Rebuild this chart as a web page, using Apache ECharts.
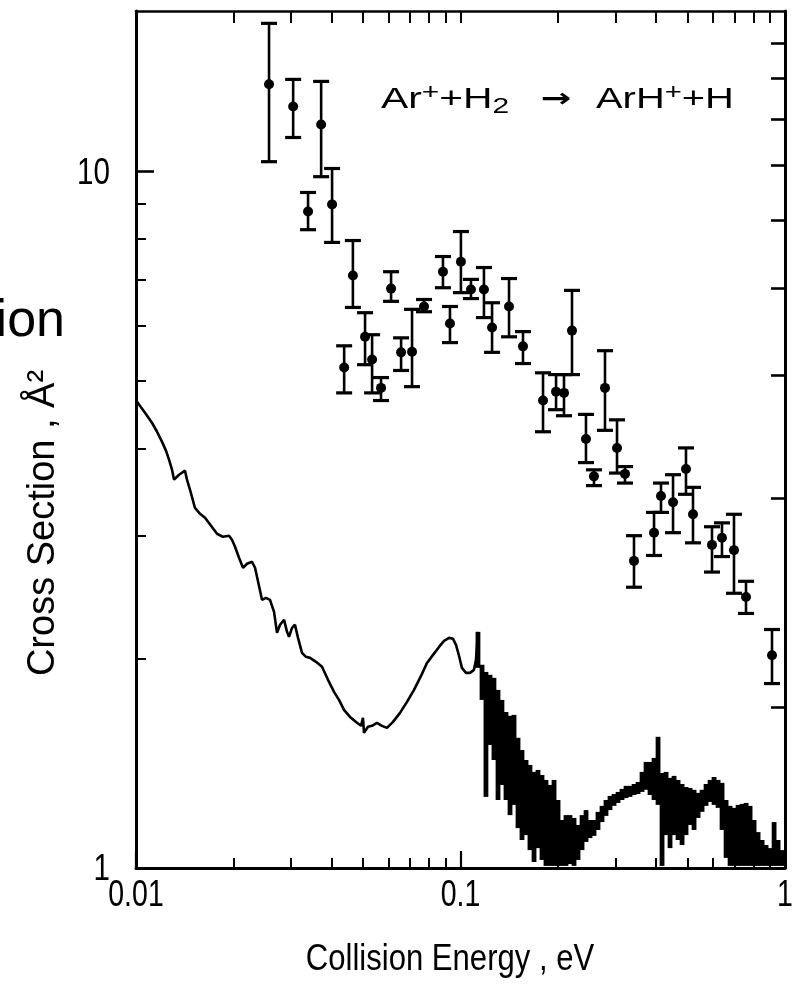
<!DOCTYPE html>
<html>
<head>
<meta charset="utf-8">
<script src="https://cdn.jsdelivr.net/npm/echarts@6/dist/echarts.min.js"></script>
<style>
  html, body { margin: 0; padding: 0; background: #fff; }
  #chart { width: 808px; height: 988px; }
</style>
</head>
<body>
<div id="chart"></div>
<script>
// ---------- data ----------
// measured points: collision energy (eV), cross section (A^2), lower / upper error
var ptEnergy = [0.0257,0.0305,0.0339,0.0372,0.0402,0.0438,0.0466,0.0508,0.0534,0.0569,0.0611,0.0656,0.0709,0.0772,0.0883,0.0928,0.1003,0.1077,0.1181,0.1251,0.1411,0.1558,0.1796,0.1970,0.2084,0.2206,0.2436,0.2578,0.2788,0.3036,0.3213,0.3425,0.3948,0.4148,0.4518,0.4953,0.5206,0.5957,0.6394,0.6963,0.7583,0.9119];
var ptSigma  = [13.34,12.40,8.76,11.68,8.97,5.23,7.09,5.79,5.37,4.89,6.79,5.50,5.51,6.40,7.18,6.05,7.42,6.77,6.77,5.97,6.40,5.61,4.69,4.83,4.81,5.91,4.13,3.65,4.89,4.01,3.68,2.76,3.03,3.42,3.35,3.74,3.22,2.91,2.98,2.86,2.45,2.02];
var ptLow    = [10.33,11.19,8.25,9.83,7.91,4.81,6.38,5.28,4.81,4.69,6.51,5.18,4.91,6.29,6.81,5.68,6.70,6.57,6.17,5.50,5.79,5.30,4.23,4.55,4.46,5.11,3.82,3.54,4.25,3.69,3.57,2.53,2.81,3.24,3.03,3.44,2.93,2.66,2.80,2.48,2.32,1.84];
var ptHigh   = [16.32,13.56,9.33,13.47,10.10,5.62,7.96,6.27,5.83,5.06,7.18,5.77,6.34,6.55,7.55,6.40,8.20,7.00,7.28,6.48,7.02,5.89,5.14,5.11,5.11,6.75,4.48,3.73,5.53,4.40,3.77,3.00,3.24,3.57,3.67,4.01,3.52,3.09,3.13,3.22,2.58,2.20];

// calculated curve, smooth low-energy part
var curveEnergy = [0.01007,0.01066,0.0112,0.01161,0.01202,0.01237,0.01264,0.01291,0.0131,0.01357,0.01416,0.01436,0.01467,0.01519,0.01575,0.01632,0.01703,0.01777,0.01854,0.01935,0.01976,0.02019,0.02077,0.02137,0.02199,0.02278,0.02327,0.0236,0.02445,0.02515,0.02588,0.02663,0.0272,0.02779,0.02859,0.0292,0.02962,0.03025,0.0309,0.03157,0.03248,0.03341,0.03438,0.03587,0.03743,0.03906,0.04076,0.04223,0.04375,0.04566,0.04797,0.04936,0.05006,0.05042,0.05187,0.05337,0.05529,0.05728,0.05935,0.06194,0.0651,0.06842,0.0719,0.07556,0.07885,0.08229,0.08586,0.08897,0.09218,0.09483,0.09686,0.09895,0.101,0.104,0.107,0.110,0.1116,0.1132];
var curveSigma  = [4.672,4.505,4.358,4.23,4.094,3.974,3.857,3.731,3.61,3.67,3.719,3.61,3.492,3.29,3.225,3.183,3.1,3.019,2.989,2.999,2.96,2.892,2.789,2.698,2.734,2.752,2.698,2.619,2.427,2.443,2.427,2.332,2.176,2.235,2.272,2.183,2.147,2.212,2.235,2.14,2.037,2.01,2.003,1.977,1.945,1.863,1.79,1.743,1.687,1.648,1.616,1.6,1.643,1.563,1.595,1.6,1.616,1.6,1.589,1.621,1.67,1.732,1.802,1.887,1.97,2.023,2.077,2.119,2.14,2.133,2.091,2.017,1.938,1.906,1.906,1.925,1.99,2.183];

// calculated curve, noisy high-energy part: energy, lower and upper edge of the trace
var bandEnergy = [0.1132,0.1165,0.1198,0.1233,0.1268,0.1305,0.1342,0.1381,0.1421,0.1462,0.1504,0.1547,0.1592,0.1637,0.1685,0.1733,0.1783,0.1834,0.1887,0.1942,0.1998,0.2055,0.2114,0.2175,0.2238,0.2302,0.2369,0.2437,0.2507,0.2579,0.2653,0.2730,0.2808,0.2889,0.2973,0.3058,0.3146,0.3237,0.3330,0.3426,0.3525,0.3626,0.3731,0.3838,0.3949,0.4062,0.4179,0.4300,0.4423,0.4551,0.4682,0.4817,0.4955,0.5098,0.5245,0.5396,0.5551,0.5711,0.5876,0.6045,0.6219,0.6398,0.6583,0.6772,0.6967,0.7168,0.7374,0.7587,0.7805,0.8030,0.8261,0.8499,0.8744,0.8996,0.9255,0.9521,0.9795];
var bandLow    = [1.938,1.743,1.265,1.502,1.429,1.252,1.316,1.252,1.191,1.232,1.141,1.097,1.115,1.061,1.02,1.068,1.027,1.007,1.007,1.007,1.007,1.007,1.007,1.013,1.007,1.027,1.061,1.09,1.104,1.112,1.134,1.164,1.188,1.211,1.228,1.24,1.252,1.26,1.265,1.273,1.277,1.286,1.295,1.273,1.252,1.232,1.007,1.115,1.068,1.115,1.097,1.079,1.115,1.153,1.134,1.18,1.204,1.228,1.244,1.232,1.22,1.134,1.034,1.007,1.007,1.007,1.007,1.007,1.007,1.007,1.007,1.007,1.007,1.007,1.007,1.007,1.007];
var bandHigh   = [2.183,1.958,1.912,1.894,1.875,1.802,1.743,1.675,1.654,1.659,1.538,1.477,1.429,1.406,1.374,1.383,1.36,1.338,1.316,1.338,1.252,1.172,1.191,1.191,1.18,1.153,1.191,1.211,1.172,1.172,1.204,1.228,1.252,1.269,1.277,1.286,1.299,1.312,1.312,1.32,1.329,1.374,1.42,1.42,1.439,1.543,1.369,1.374,1.347,1.356,1.338,1.32,1.307,1.303,1.295,1.282,1.295,1.32,1.338,1.351,1.338,1.325,1.252,1.228,1.22,1.232,1.236,1.24,1.228,1.172,1.126,1.097,1.079,1.068,1.164,1.097,1.061];

// axis ticks and tick labels
var xMajorTicks = [0.01, 0.1, 1];
var xMajorLabels = ['0.01', '0.1', '1'];
var xMinorTicks = [0.02,0.03,0.04,0.05,0.06,0.07,0.08,0.09,0.2,0.3,0.4,0.5,0.6,0.7,0.8,0.9];
var xTopTicks   = [0.02,0.03,0.04,0.05,0.06,0.07,0.08,0.09,0.1,0.2,0.3,0.4,0.5,0.6,0.7,0.8,0.9];
var yMajorTicks = [1, 10];
var yMajorLabels = ['1', '10'];
var yMinorTicks = [2,3,4,5,6,7,8,9];
var yRightTicks = [1.7,3.4,5.1,6.8,8.5,10.2,11.9,13.6,15.3];

// ---------- chart ----------
var REG = "'Liberation Sans', Arial, Helvetica, sans-serif";
var BLACK = '#000';

var chart = echarts.init(document.getElementById('chart'), null, {renderer: 'canvas'});

function ax(extra) {
  var base = {
    type: 'log', logBase: 10,
    axisLine: {show: false},
    axisTick: {show: false},
    axisLabel: {show: false},
    splitLine: {show: false},
    minorTick: {show: false},
    minorSplitLine: {show: false}
  };
  for (var k in extra) base[k] = extra[k];
  return base;
}

var pointData = ptEnergy.map(function (e, i) { return [e, ptSigma[i], ptLow[i], ptHigh[i]]; });
var curveData = curveEnergy.map(function (e, i) { return [e, curveSigma[i]]; });
var bandData  = bandEnergy.map(function (e, i) { return [e, bandLow[i], bandHigh[i]]; });

var option = {
  backgroundColor: '#fff',
  animation: false,
  grid: {left: 136, right: 23, top: 11, bottom: 120, containLabel: false, outerBoundsMode: 'none'},
  xAxis: [
    ax({min: 0.01, max: 1, position: 'bottom',
        axisLine: {show: true, onZero: false, lineStyle: {color: BLACK, width: 3}},
        axisTick: {show: true, inside: true, length: 17, customValues: xMajorTicks, lineStyle: {color: BLACK, width: 2.2}}}),
    ax({min: 0.01, max: 1, position: 'bottom',
        axisTick: {show: true, inside: true, length: 10, customValues: xMinorTicks, lineStyle: {color: BLACK, width: 2}}}),
    ax({min: 0.01, max: 1, position: 'top',
        axisLine: {show: true, onZero: false, lineStyle: {color: BLACK, width: 2.6}},
        axisTick: {show: true, inside: true, length: 12, customValues: xTopTicks, lineStyle: {color: BLACK, width: 2}}})
  ],
  yAxis: [
    ax({min: 1, max: 17, position: 'left',
        axisLine: {show: true, onZero: false, lineStyle: {color: BLACK, width: 3}},
        axisTick: {show: true, inside: true, length: 18, customValues: yMajorTicks, lineStyle: {color: BLACK, width: 2.6}}}),
    ax({min: 1, max: 17, position: 'left',
        axisTick: {show: true, inside: true, length: 10, customValues: yMinorTicks, lineStyle: {color: BLACK, width: 2}}}),
    ax({min: 1, max: 17, position: 'right',
        axisLine: {show: true, onZero: false, lineStyle: {color: BLACK, width: 3}},
        axisTick: {show: true, inside: true, length: 14, customValues: yRightTicks, lineStyle: {color: BLACK, width: 2.6}}})
  ],
  series: [
    {
      type: 'line', xAxisIndex: 0, yAxisIndex: 0, data: curveData,
      showSymbol: false, symbol: 'none', smooth: false,
      lineStyle: {color: BLACK, width: 2.6}, z: 3
    },
    {
      type: 'custom', xAxisIndex: 0, yAxisIndex: 0, data: bandData, z: 3,
      encode: {x: 0, y: [1, 2]},
      renderItem: function (params, api) {
        var lo = api.coord([api.value(0), api.value(1)]);
        var hi = api.coord([api.value(0), api.value(2)]);
        return {type: 'line', shape: {x1: lo[0], y1: lo[1], x2: hi[0], y2: hi[1]},
                style: {stroke: BLACK, lineWidth: 4.8}};
      }
    },
    {
      type: 'custom', xAxisIndex: 0, yAxisIndex: 0, data: pointData, z: 4,
      encode: {x: 0, y: [1, 2, 3]},
      renderItem: function (params, api) {
        var e = api.value(0);
        var c = api.coord([e, api.value(1)]);
        var l = api.coord([e, api.value(2)]);
        var h = api.coord([e, api.value(3)]);
        var cw = 8;
        return {type: 'group', children: [
          {type: 'line', shape: {x1: l[0], y1: l[1], x2: h[0], y2: h[1]}, style: {stroke: BLACK, lineWidth: 2.6}},
          {type: 'line', shape: {x1: h[0] - cw, y1: h[1], x2: h[0] + cw, y2: h[1]}, style: {stroke: BLACK, lineWidth: 3.2}},
          {type: 'line', shape: {x1: l[0] - cw, y1: l[1], x2: l[0] + cw, y2: l[1]}, style: {stroke: BLACK, lineWidth: 3.2}},
          {type: 'circle', shape: {cx: c[0], cy: c[1], r: 5}, style: {fill: BLACK}}
        ]};
      }
    }
  ]
};

chart.setOption(option);

// tick labels placed through the axes' own scales
var graphics = [];
xMajorTicks.forEach(function (v, i) {
  var px = chart.convertToPixel({xAxisIndex: 0}, v);
  graphics.push({type: 'text', x: px, y: 896, scaleX: 0.77, z: 10,
    style: {text: xMajorLabels[i], fontFamily: REG, fontSize: 37, fill: BLACK, align: 'center', verticalAlign: 'middle'}});
});
yMajorTicks.forEach(function (v, i) {
  var py = chart.convertToPixel({yAxisIndex: 0}, v);
  graphics.push({type: 'text', x: 110, y: py + 2, scaleX: 0.8, z: 10,
    style: {text: yMajorLabels[i], fontFamily: REG, fontSize: 37, fill: BLACK, align: 'right', verticalAlign: 'middle'}});
});

var supRich = {
  n:   {fontFamily: REG, fontSize: 30, lineHeight: 36, verticalAlign: 'middle', fill: BLACK},
  sup: {fontFamily: REG, fontSize: 22, lineHeight: 36, verticalAlign: 'top', fill: BLACK, padding: [0, 0, 12, 0]},
  sub: {fontFamily: REG, fontSize: 22, lineHeight: 36, verticalAlign: 'bottom', fill: BLACK, padding: [10, 0, 0, 0]}
};
graphics.push(
  {type: 'text', x: 381, y: 82, scaleX: 1.36, z: 10,
   style: {text: '{n|Ar}{sup|+}{n|+H}{sub|2}', rich: supRich}},
  {type: 'text', x: 541, y: 100, scaleX: 1.4, z: 10,
   style: {text: '\u2192', fontFamily: "'DejaVu Sans', sans-serif", fontSize: 26, fontWeight: 'bold', fill: BLACK, verticalAlign: 'middle'}},
  {type: 'text', x: 596, y: 82, scaleX: 1.33, z: 10,
   style: {text: '{n|ArH}{sup|+}{n|+H}', rich: supRich}},
  {type: 'text', x: 65, y: 322, z: 10,
   style: {text: 'ion', fontFamily: REG, fontSize: 52, fill: BLACK, align: 'right', verticalAlign: 'middle'}},
  {type: 'text', x: 44, y: 523, rotation: Math.PI / 2, scaleX: 1.0, z: 10,
   style: {text: 'Cross Section , \u00C5\u00B2', fontFamily: REG, fontSize: 38, fill: BLACK, align: 'center', verticalAlign: 'middle'}},
  {type: 'text', x: 450, y: 960, scaleX: 0.84, z: 10,
   style: {text: 'Collision Energy , eV', fontFamily: REG, fontSize: 37, fill: BLACK, align: 'center', verticalAlign: 'middle'}}
);
chart.setOption({graphic: graphics});
</script>
</body>
</html>
